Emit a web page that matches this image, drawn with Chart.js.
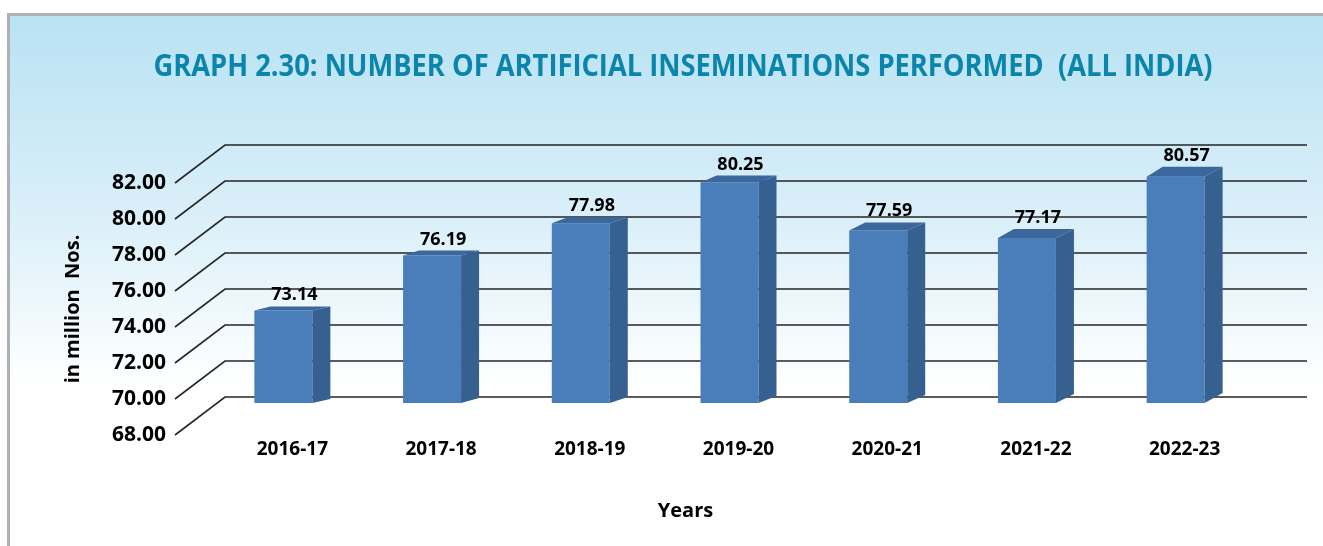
<!DOCTYPE html>
<html>
<head>
<meta charset="utf-8">
<script src="https://cdn.jsdelivr.net/npm/chart.js@4.4.1/dist/chart.umd.min.js"></script>
<style>
  html, body { margin: 0; padding: 0; background: #fff; }
  #wrap { width: 1323px; height: 546px; }
</style>
</head>
<body>
<div id="wrap"><canvas id="aiChart" width="1323" height="546"></canvas></div>
<script>
const years = ["2016-17", "2017-18", "2018-19", "2019-20", "2020-21", "2021-22", "2022-23"];
const inseminations = [73.14, 76.19, 77.98, 80.25, 77.59, 77.17, 80.57];
const yTicks = [68, 70, 72, 74, 76, 78, 80, 82];
const chartTitle = 'GRAPH 2.30: NUMBER OF ARTIFICIAL INSEMINATIONS PERFORMED  (ALL INDIA)';

const FONT = "'Open Sans', 'Noto Sans', sans-serif";

// fake 3d: wall depth and bar depth
const WALL_DX = 50, WALL_DY = 38;
const BAR_SHIFT_X = -9, BAR_SHIFT_Y = -32;
const BAR_DX = 18;

const backdrop = {
  id: 'backdrop',
  beforeDraw(chart) {
    const { ctx, width, height } = chart;
    const g = ctx.createLinearGradient(0, 14, 0, height);
    g.addColorStop(0, '#b8e2f3');
    g.addColorStop(0.4, '#dcf0f9');
    g.addColorStop(0.7, '#ffffff');
    ctx.save();
    ctx.fillStyle = '#fff';
    ctx.fillRect(0, 0, width, height);
    ctx.fillStyle = g;
    ctx.fillRect(9, 15, width - 9, height - 15);
    ctx.fillStyle = '#aeb0b4';
    ctx.fillRect(7, 13, width - 7, 3);
    ctx.fillRect(7, 13, 3, height - 13);
    ctx.restore();
  }
};

// condensed heading, squeezed to a fixed width
const heading = {
  id: 'heading',
  afterDraw(chart) {
    const ctx = chart.ctx;
    ctx.save();
    ctx.font = 'bold 31px ' + FONT;
    ctx.fillStyle = '#0b85ac';
    ctx.textAlign = 'center';
    ctx.textBaseline = 'alphabetic';
    const w = ctx.measureText(chartTitle).width;
    ctx.translate(683, 76);
    ctx.scale(1059 / w, 1);
    ctx.fillText(chartTitle, 0, 0);
    ctx.restore();
  }
};

const wallGrid = {
  id: 'wallGrid',
  beforeDatasetsDraw(chart) {
    const { ctx, chartArea, scales: { y } } = chart;
    const x0 = chartArea.left - 43;
    const x1 = chartArea.right + 48;
    ctx.save();
    ctx.strokeStyle = '#262626';
    ctx.lineWidth = 1.6;
    y.ticks.forEach(t => {
      const py = y.getPixelForValue(t.value);
      ctx.beginPath();
      ctx.moveTo(x0, py);
      ctx.lineTo(x0 + WALL_DX, py - WALL_DY);
      ctx.lineTo(x1, py - WALL_DY);
      ctx.stroke();
    });
    ctx.restore();
  }
};

const bars3d = {
  id: 'bars3d',
  beforeDatasetsDraw(chart) {
    chart.ctx.save();
    chart.ctx.translate(BAR_SHIFT_X, BAR_SHIFT_Y);
  },
  afterDatasetsDraw(chart) {
    const ctx = chart.ctx;
    const meta = chart.getDatasetMeta(0);
    meta.data.forEach((bar, i) => {
      const { x, y, base, width } = bar.getProps(['x', 'y', 'base', 'width'], true);
      const l = x - width / 2, r = x + width / 2;
      const dy = -(4 + i);
      // side
      ctx.fillStyle = '#36608f';
      ctx.beginPath();
      ctx.moveTo(r, y);
      ctx.lineTo(r + BAR_DX, y + dy);
      ctx.lineTo(r + BAR_DX, base + dy);
      ctx.lineTo(r, base);
      ctx.closePath();
      ctx.fill();
      // top
      ctx.fillStyle = '#3b679c';
      ctx.beginPath();
      ctx.moveTo(l, y);
      ctx.lineTo(l + BAR_DX - 2, y + dy);
      ctx.lineTo(r + BAR_DX, y + dy);
      ctx.lineTo(r, y);
      ctx.closePath();
      ctx.fill();
      // value label
      ctx.fillStyle = '#000';
      ctx.font = 'bold 18px ' + FONT;
      ctx.textAlign = 'center';
      ctx.textBaseline = 'alphabetic';
      ctx.fillText(inseminations[i].toFixed(2), x + BAR_DX / 2 + 2, y + dy - 6);
    });
    ctx.restore();
  }
};

new Chart(document.getElementById('aiChart'), {
  type: 'bar',
  data: {
    labels: years,
    datasets: [{
      data: inseminations,
      base: 68,
      backgroundColor: '#4a7ebb',
      barPercentage: 0.39,
      categoryPercentage: 1,
      clip: false
    }]
  },
  options: {
    responsive: false,
    animation: false,
    layout: { padding: { top: 183, left: 48, right: 0, bottom: 10 } },
    plugins: {
      legend: { display: false },
      tooltip: { enabled: false },
      title: { display: false },
      subtitle: {
        display: true,
        position: 'bottom',
        text: 'Years',
        color: '#000',
        font: { family: FONT, size: 20, weight: 'bold' },
        padding: { top: 14, bottom: 13 }
      }
    },
    scales: {
      x: {
        grid: { display: false, drawTicks: false },
        border: { display: false },
        ticks: { color: '#000', font: { family: FONT, size: 19, weight: 'bold' }, padding: 3, maxRotation: 0 },
        afterFit: s => { s.height = 50; }
      },
      y: {
        min: 68,
        max: 82,
        grid: { display: false, drawTicks: false },
        border: { display: false },
        afterBuildTicks: s => { s.ticks = yTicks.map(v => ({ value: v })); },
        ticks: {
          color: '#000',
          font: { family: FONT, size: 21, weight: 'bold' },
          padding: 52,
          callback: v => v.toFixed(2)
        },
        title: {
          display: true,
          text: 'in million  Nos.',
          color: '#000',
          font: { family: FONT, size: 20, weight: 'bold' },
          padding: { top: 13 }
        },
        afterFit: s => { s.width = 170; }
      },
      // empty right-hand axis, just reserves the space past the last bar
      yRight: {
        position: 'right',
        grid: { display: false },
        border: { display: false },
        ticks: { display: false },
        afterFit: s => { s.width = 64; }
      }
    }
  },
  plugins: [backdrop, wallGrid, bars3d, heading]
});
</script>
</body>
</html>
